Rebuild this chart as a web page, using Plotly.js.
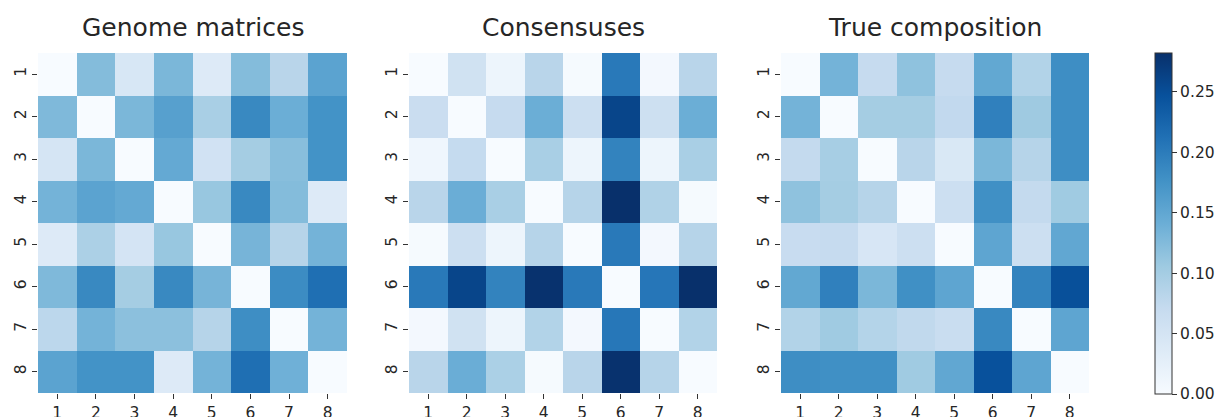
<!DOCTYPE html>
<html>
<head>
<meta charset="utf-8">
<script src="https://cdn.plot.ly/plotly-3.0.1.min.js"></script>
<style>html,body{margin:0;padding:0;background:#fff;}#chart{width:1218px;height:417px;}</style>
</head>
<body>
<div id="chart"></div>
<script>
const labels = [1, 2, 3, 4, 5, 6, 7, 8];
const titles = ["Genome matrices", "Consensuses", "True composition"];
const colorbarTicks = [0.00, 0.05, 0.10, 0.15, 0.20, 0.25];
const zMax = 0.282;

const genomeMatrices = [
  [0.000, 0.124, 0.045, 0.130, 0.037, 0.124, 0.082, 0.155],
  [0.127, 0.000, 0.130, 0.158, 0.096, 0.186, 0.141, 0.175],
  [0.048, 0.130, 0.000, 0.147, 0.054, 0.100, 0.121, 0.175],
  [0.135, 0.155, 0.147, 0.000, 0.110, 0.186, 0.124, 0.037],
  [0.037, 0.093, 0.050, 0.110, 0.000, 0.133, 0.085, 0.135],
  [0.127, 0.186, 0.100, 0.186, 0.133, 0.000, 0.183, 0.214],
  [0.079, 0.135, 0.118, 0.118, 0.085, 0.180, 0.000, 0.135],
  [0.155, 0.175, 0.175, 0.037, 0.135, 0.214, 0.138, 0.000]
];

const consensuses = [
  [0.000, 0.056, 0.014, 0.082, 0.003, 0.203, 0.006, 0.082],
  [0.065, 0.000, 0.070, 0.141, 0.062, 0.260, 0.060, 0.141],
  [0.011, 0.071, 0.000, 0.096, 0.014, 0.192, 0.014, 0.096],
  [0.082, 0.142, 0.096, 0.000, 0.085, 0.282, 0.090, 0.003],
  [0.003, 0.062, 0.014, 0.085, 0.000, 0.203, 0.006, 0.085],
  [0.203, 0.260, 0.192, 0.280, 0.203, 0.000, 0.206, 0.282],
  [0.006, 0.056, 0.014, 0.088, 0.006, 0.205, 0.000, 0.088],
  [0.082, 0.142, 0.094, 0.003, 0.082, 0.280, 0.085, 0.000]
];

const trueComposition = [
  [0.000, 0.135, 0.070, 0.116, 0.070, 0.149, 0.088, 0.180],
  [0.135, 0.000, 0.100, 0.100, 0.074, 0.195, 0.105, 0.180],
  [0.072, 0.098, 0.000, 0.082, 0.042, 0.130, 0.085, 0.180],
  [0.116, 0.100, 0.085, 0.000, 0.062, 0.178, 0.072, 0.104],
  [0.068, 0.070, 0.046, 0.062, 0.000, 0.152, 0.062, 0.150],
  [0.149, 0.195, 0.130, 0.178, 0.152, 0.000, 0.192, 0.248],
  [0.088, 0.104, 0.086, 0.075, 0.066, 0.186, 0.000, 0.152],
  [0.180, 0.178, 0.178, 0.104, 0.150, 0.247, 0.152, 0.000]
];

const blues = [
  [0.000, "#f7fbff"], [0.125, "#deebf7"], [0.250, "#c6dbef"],
  [0.375, "#9ecae1"], [0.500, "#6baed6"], [0.625, "#4292c6"],
  [0.750, "#2171b5"], [0.875, "#08519c"], [1.000, "#08306b"]
];

const W = 1218, H = 417;
const txt = "#262626";
const font = {family: "DejaVu Sans", size: 15.5, color: txt};
const xDomains = [[38 / W, 347 / W], [409 / W, 717 / W], [781 / W, 1089 / W]];
const yDomain = [(H - 393) / H, (H - 53) / H];
const matrices = [genomeMatrices, consensuses, trueComposition];

const data = matrices.map((z, i) => ({
  type: "heatmap",
  z: z,
  x: labels,
  y: labels,
  xaxis: i === 0 ? "x" : "x" + (i + 1),
  yaxis: i === 0 ? "y" : "y" + (i + 1),
  colorscale: blues,
  zmin: 0,
  zmax: zMax,
  showscale: i === 2,
  hoverinfo: "x+y+z",
  colorbar: {
    x: 1155 / W, xanchor: "left", xpad: 0,
    y: (H - 394) / H, yanchor: "bottom", ypad: 0,
    len: 341 / H, lenmode: "fraction",
    thickness: 17, thicknessmode: "pixels",
    outlinewidth: 1, outlinecolor: "#333",
    tickvals: colorbarTicks,
    ticktext: colorbarTicks.map(v => v.toFixed(2)),
    ticks: "outside", ticklen: 5, tickwidth: 1, tickcolor: "#333",
    tickfont: font
  }
}));

const layout = {
  width: W, height: H,
  margin: {l: 0, r: 0, t: 0, b: 0},
  paper_bgcolor: "#fff", plot_bgcolor: "#fff",
  font: font,
  showlegend: false,
  annotations: titles.map((t, i) => ({
    text: t, xref: "paper", yref: "paper",
    x: (xDomains[i][0] + xDomains[i][1]) / 2, y: (H - 27) / H,
    xanchor: "center", yanchor: "middle", showarrow: false,
    font: {family: "DejaVu Sans", size: 25, color: txt}
  }))
};

for (let i = 0; i < 3; i++) {
  const sx = i === 0 ? "" : String(i + 1);
  layout["xaxis" + sx] = {
    domain: xDomains[i], anchor: "y" + sx,
    tickvals: labels, ticktext: labels.map(String),
    ticks: "outside", ticklen: 5, tickwidth: 1, tickcolor: "#333",
    showgrid: false, zeroline: false, showline: false,
    range: [0.5, 8.5], tickfont: font, fixedrange: true
  };
  layout["yaxis" + sx] = {
    domain: yDomain, anchor: "x" + sx,
    tickvals: labels, ticktext: labels.map(String),
    ticks: "outside", ticklen: 5, tickwidth: 1, tickcolor: "#333",
    tickangle: -90,
    showgrid: false, zeroline: false, showline: false,
    range: [8.5, 0.5], tickfont: font, fixedrange: true
  };
}

Plotly.newPlot("chart", data, layout, {displayModeBar: false, staticPlot: true});
</script>
</body>
</html>
